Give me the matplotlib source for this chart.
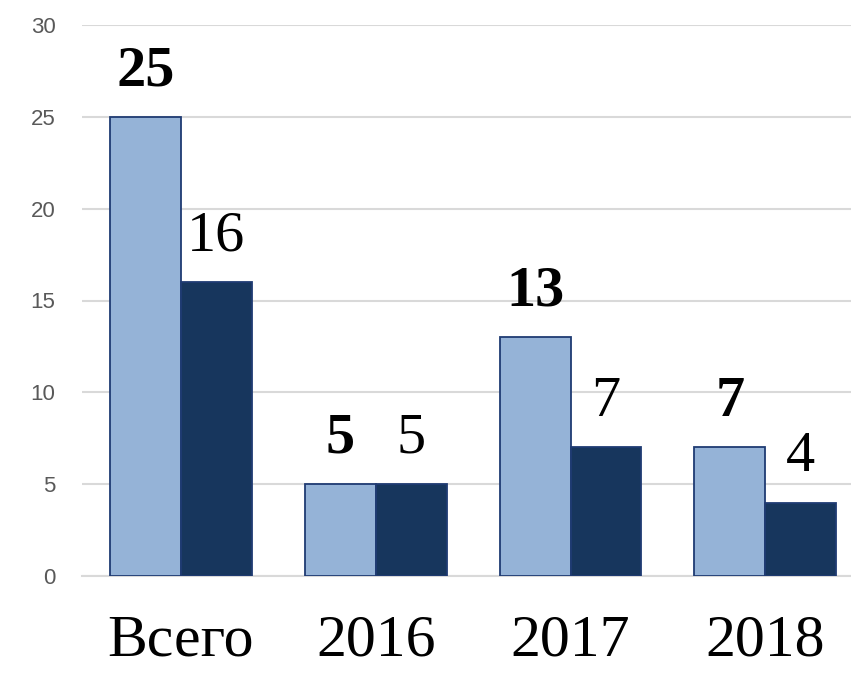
import matplotlib
matplotlib.use("Agg")
import matplotlib.pyplot as plt
import numpy as np

categories = ["Всего", "2016", "2017", "2018"]
series_a = [25, 5, 13, 7]
series_b = [16, 5, 7, 4]
yticks = [0, 5, 10, 15, 20, 25, 30]

fig = plt.figure(figsize=(8.51, 6.73), dpi=100)
ax = fig.add_axes([82/851, 1 - 576/673, 1 - 82/851, (576 - 25)/673])

x = np.arange(len(categories))
w = 0.364
light = "#95B3D7"
dark = "#17365D"
edge = "#1F3B73"

ax.bar(x - w/2, series_a, width=w, color=light, edgecolor=edge, linewidth=1.3, zorder=3)
ax.bar(x + w/2, series_b, width=w, color=dark, edgecolor=edge, linewidth=1.3, zorder=3)

serif = ["Liberation Serif", "DejaVu Serif"]
for xi, v in zip(x, series_a):
    ax.annotate(str(v), (xi - w/2, v), xytext=(0, 14), textcoords="offset points",
                ha="center", va="bottom", fontsize=42, fontweight="bold",
                family=serif, color="black")
for xi, v in zip(x, series_b):
    ax.annotate(str(v), (xi + w/2, v), xytext=(0, 14), textcoords="offset points",
                ha="center", va="bottom", fontsize=42, family=serif, color="black")

ax.set_ylim(0, 30)
ax.set_xlim(-0.508, 3.44)
ax.set_yticks(yticks)
ax.set_yticklabels([str(t) for t in yticks], fontsize=16, color="#595959",
                   family=["Liberation Sans", "DejaVu Sans"])
ax.set_xticks(x)
ax.set_xticklabels(categories, fontsize=43, family=serif, color="black")
ax.tick_params(axis="y", length=0, pad=19)
ax.tick_params(axis="x", length=0, pad=28)
ax.yaxis.grid(True, color="#D9D9D9", linewidth=1.5, zorder=0)
ax.set_axisbelow(True)
for s in ["top", "right", "left"]:
    ax.spines[s].set_visible(False)
ax.spines["bottom"].set_color("#D9D9D9")
ax.spines["bottom"].set_linewidth(1.5)

fig.savefig("out.png", dpi=100)
